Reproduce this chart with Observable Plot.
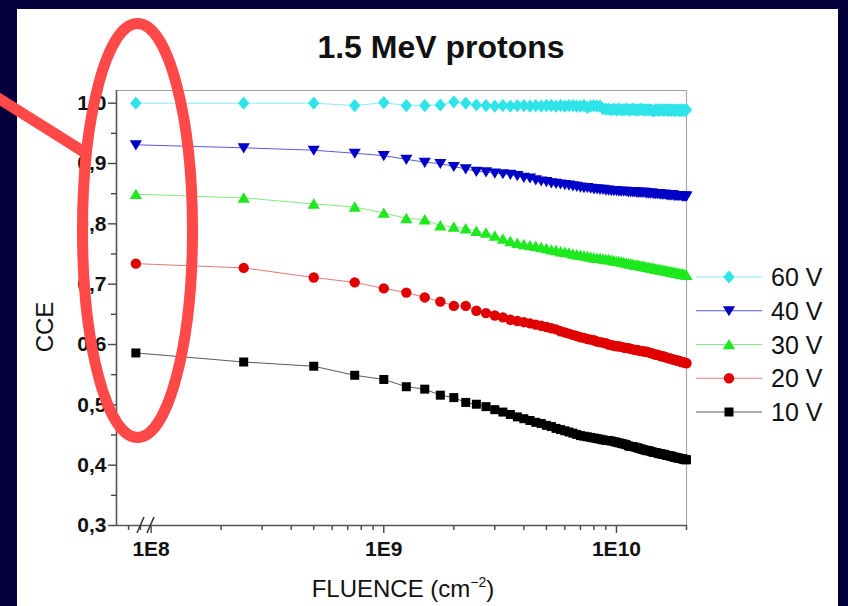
<!DOCTYPE html>
<html><head><meta charset="utf-8">
<script src="https://cdn.jsdelivr.net/npm/d3@7"></script>
<script src="https://cdn.jsdelivr.net/npm/@observablehq/plot@0.6"></script>
<style>
body{margin:0;background:#03003c;}
#wrap{position:relative;width:848px;height:606px;background:#03003c;overflow:hidden;font-family:"Liberation Sans",Arial,Helvetica,sans-serif;}
#panel{position:absolute;left:17px;top:9px;width:821px;height:597px;background:#fff;}
#chart{position:absolute;left:0;top:0;}
#overlay{position:absolute;left:0;top:0;pointer-events:none;}
</style>
</head><body>
<div id="wrap"><div id="panel"></div><div id="chart"></div><svg id="overlay" width="848" height="606"></svg></div>
<script>
// Fluence in units of 1E8 cm^-2 (first point sits at the axis break)
const fluenceE8 = [0.86,
 2.5,5,7.5,10,12.5,15,17.5,20,22.5,25,27.5,30,32.5,35,37.5,40,42.5,45,47.5,50,
 52.5,55,57.5,60,62.5,65,67.5,70,72.5,75,77.5,80,82.5,85,87.5,90,92.5,95,97.5,100,
 102.5,105,107.5,110,112.5,115,117.5,120,122.5,125,127.5,130,132.5,135,137.5,140,142.5,145,147.5,150,
 152.5,155,157.5,160,162.5,165,167.5,170,172.5,175,177.5,180,182.5,185,187.5,190,192.5,195,197.5,200];

const cce60 = [1.000,1.000,1.000,0.996,1.001,0.996,0.996,0.997,1.002,1.000,0.997,0.996,0.995,
 0.996,0.995,0.996,0.996,0.995,0.996,0.995,0.996,0.996,0.995,0.996,0.995,0.996,0.996,0.995,0.995,0.996,0.993,0.995,0.996,0.995,0.995,
 0.991,0.990,0.990,0.989,0.990,0.989,0.990,0.989,0.989,0.990,0.989,0.989,0.990,0.989,0.989,0.989,0.990,0.989,0.989,0.989,
 0.989,0.989,0.988,0.987,0.989,0.989,0.988,0.989,0.989,0.988,0.989,0.989,0.988,0.989,0.988,0.989,0.988,0.988,0.989,0.988,
 0.988,0.988,0.989,0.988,0.988,0.989];
const cce40 = [0.931,0.926,0.922,0.917,0.913,0.907,0.902,0.900,0.895,0.891,0.887,0.886,0.884,
 0.883,0.882,0.880,0.877,0.876,0.873,0.871,0.870,0.868,0.867,0.866,0.865,0.864,0.863,0.862,0.861,0.860,0.860,0.859,0.858,0.858,0.857,
 0.857,0.856,0.856,0.855,0.855,0.855,0.854,0.854,0.854,0.854,0.853,0.853,0.853,0.853,0.852,0.852,0.852,0.852,0.852,0.851,
 0.851,0.851,0.851,0.850,0.850,0.850,0.850,0.849,0.849,0.849,0.849,0.848,0.848,0.848,0.848,0.848,0.847,0.847,0.847,0.847,
 0.847,0.847,0.846,0.846,0.846,0.846];
const cce30 = [0.849,0.843,0.833,0.828,0.818,0.809,0.807,0.797,0.795,0.792,0.788,0.785,0.780,
 0.775,0.771,0.768,0.766,0.764,0.763,0.761,0.759,0.757,0.756,0.754,0.753,0.752,0.750,0.749,0.748,0.747,0.746,0.745,0.744,0.743,0.743,
 0.742,0.741,0.741,0.740,0.739,0.738,0.738,0.737,0.736,0.735,0.734,0.734,0.733,0.732,0.732,0.731,0.730,0.730,0.729,0.728,
 0.728,0.727,0.727,0.726,0.725,0.725,0.724,0.724,0.723,0.723,0.722,0.722,0.721,0.721,0.720,0.720,0.719,0.719,0.718,0.718,
 0.717,0.717,0.717,0.716,0.716,0.715];
const cce20 = [0.734,0.727,0.711,0.703,0.693,0.686,0.678,0.671,0.664,0.664,0.656,0.652,0.648,
 0.645,0.641,0.639,0.637,0.635,0.633,0.631,0.629,0.627,0.625,0.622,0.620,0.618,0.616,0.614,0.612,0.611,0.609,0.608,0.607,0.605,0.604,
 0.603,0.602,0.600,0.599,0.598,0.597,0.597,0.596,0.595,0.594,0.594,0.593,0.592,0.591,0.591,0.590,0.589,0.589,0.588,0.588,
 0.587,0.586,0.585,0.584,0.583,0.583,0.582,0.581,0.580,0.580,0.579,0.578,0.577,0.577,0.576,0.575,0.575,0.574,0.573,0.573,
 0.572,0.571,0.571,0.570,0.570,0.569];
const cce10 = [0.586,0.571,0.564,0.549,0.542,0.530,0.526,0.516,0.512,0.504,0.501,0.497,0.492,
 0.488,0.484,0.480,0.477,0.474,0.471,0.469,0.466,0.464,0.461,0.459,0.457,0.455,0.453,0.451,0.449,0.448,0.447,0.446,0.445,0.444,0.443,
 0.442,0.441,0.441,0.440,0.439,0.438,0.437,0.436,0.435,0.434,0.432,0.431,0.431,0.430,0.429,0.428,0.427,0.426,0.425,0.424,
 0.424,0.423,0.422,0.421,0.421,0.420,0.419,0.419,0.418,0.418,0.417,0.416,0.416,0.415,0.415,0.414,0.413,0.413,0.412,0.412,
 0.411,0.411,0.410,0.410,0.409,0.409];

const seriesNames = ["60 V","40 V","30 V","20 V","10 V"];
const seriesValues = [cce60, cce40, cce30, cce20, cce10];
const seriesColors = ["#2ee4e8","#0000c8","#1ee81e","#e00000","#000000"];
const lineColors = ["#86eef0","#5a5ad8","#84e884","#e27a7a","#5a5a5a"];
const seriesSymbols = ["diamond","triDown","triUp","circle","square"];

const xDomain = [7.1e7, 2e10];
const yDomain = [0.3, 1.021];
const xMajorTicks = [1e8, 1e9, 1e10];
const xMinorTicks = [8e7,9e7,2e8,3e8,4e8,5e8,6e8,7e8,8e8,9e8,2e9,3e9,4e9,5e9,6e9,7e9,8e9,9e9,2e10];
const yMajorTicks = [0.3,0.4,0.5,0.6,0.7,0.8,0.9,1.0];
const yMinorTicks = [0.35,0.45,0.55,0.65,0.75,0.85,0.95];

const titleText = "1.5 MeV protons";
const xLabel = "FLUENCE (cm";
const xLabelSup = "\u22122";
const yLabel = "CCE";

const symbolDefs = {
  diamond: {draw(c){c.moveTo(0,-6.6);c.lineTo(5.7,0);c.lineTo(0,6.6);c.lineTo(-5.7,0);c.closePath();}},
  triDown: {draw(c){c.moveTo(-6.1,-4.6);c.lineTo(6.1,-4.6);c.lineTo(0,5.6);c.closePath();}},
  triUp:   {draw(c){c.moveTo(-6.1,4.8);c.lineTo(6.1,4.8);c.lineTo(0,-5.6);c.closePath();}},
  circle:  {draw(c){c.moveTo(5.2,0);c.arc(0,0,5.2,0,2*Math.PI);c.closePath();}},
  square:  {draw(c){c.rect(-4.5,-4.5,9,9);}}
};

const fluence = fluenceE8.map(v => v * 1e8);
const marks = [];
seriesNames.forEach((name, i) => {
  const rows = fluence.map((f, j) => ({f, v: seriesValues[i][j], series: name}));
  marks.push(Plot.line(rows, {x: "f", y: "v", stroke: lineColors[i], strokeWidth: 1}));
  marks.push(Plot.dot(rows, {x: "f", y: "v", symbol: symbolDefs[seriesSymbols[i]], r: 5, fill: seriesColors[i], stroke: "none"}));
});

const chart = Plot.plot({
  width: 848, height: 606,
  marginLeft: 116, marginRight: 162, marginTop: 90, marginBottom: 81,
  style: {background: "transparent", fontFamily: "'Liberation Sans', Arial, sans-serif", fontSize: "21px", fontWeight: "bold", color: "#111"},
  x: {type: "log", domain: xDomain, axis: null},
  y: {domain: yDomain, axis: null},
  marks: [
    Plot.ruleY([yDomain[1]], {stroke: "#a0a0a0", strokeWidth: 1.2}),
    Plot.ruleX([xDomain[1]], {stroke: "#a8a8a8", strokeWidth: 1.2}),
    Plot.axisY(yMajorTicks, {tickSize: 8, tickPadding: 2, stroke: "#444", strokeWidth: 1.4, label: null,
      tickFormat: d => d.toFixed(1).replace(".", ",")}),
    Plot.axisY(yMinorTicks, {tickSize: 5, stroke: "#444", strokeWidth: 1.4, label: null, tickFormat: () => ""}),
    Plot.axisX(xMajorTicks, {tickSize: 8, tickPadding: 8, stroke: "#444", strokeWidth: 1.4, label: null,
      tickFormat: d => "1E" + Math.round(Math.log10(d))}),
    Plot.axisX(xMinorTicks, {tickSize: 5, stroke: "#444", strokeWidth: 1.4, label: null, tickFormat: () => ""}),
    ...marks,
    Plot.ruleX([xDomain[0]], {stroke: "#555", strokeWidth: 1.6}),
    Plot.ruleY([yDomain[0]], {stroke: "#555", strokeWidth: 1.6})
  ]
});
document.getElementById("chart").appendChild(chart);

// overlay: titles, legend, axis break, annotation
const ov = d3.select("#overlay");
const ff = "'Liberation Sans', Arial, sans-serif";
ov.append("text").attr("x", 441).attr("y", 58).attr("text-anchor", "middle")
  .attr("font-family", ff).attr("font-weight", "bold").attr("font-size", 32).attr("fill", "#111").text(titleText);
const xl = ov.append("text").attr("x", 403).attr("y", 597).attr("text-anchor", "middle")
  .attr("font-family", ff).attr("font-size", 24).attr("fill", "#111");
xl.append("tspan").text(xLabel);
xl.append("tspan").attr("dy", -10).attr("font-size", 14).text(xLabelSup);
xl.append("tspan").attr("dy", 10).text(")");
ov.append("text").attr("transform", "translate(53,327) rotate(-90)").attr("text-anchor", "middle")
  .attr("font-family", ff).attr("font-size", 24).attr("fill", "#111").text(yLabel);

// axis break marks
[[137,533,144,517],[147,533,154,517]].forEach(([a,b,c,d]) =>
  ov.append("line").attr("x1",a).attr("y1",b).attr("x2",c).attr("y2",d).attr("stroke","#333").attr("stroke-width",1.5));

// legend
seriesNames.forEach((name, i) => {
  const y = 277 + i * 33.75;
  ov.append("line").attr("x1", 696).attr("x2", 762).attr("y1", y).attr("y2", y)
    .attr("stroke", lineColors[i]).attr("stroke-width", 1);
  ov.append("path").attr("transform", `translate(729,${y})`)
    .attr("d", d3.symbol(symbolDefs[seriesSymbols[i]], 80)()).attr("fill", seriesColors[i]);
  ov.append("text").attr("x", 771).attr("y", y + 9).attr("font-family", ff).attr("font-size", 25)
    .attr("fill", "#111").text(name);
});

// red hand-drawn annotation
ov.append("line").attr("x1", -5).attr("y1", 96).attr("x2", 84).attr("y2", 152)
  .attr("stroke", "#ff4848").attr("stroke-width", 11).attr("stroke-linecap", "round");
ov.append("ellipse").attr("cx", 137.5).attr("cy", 230.5).attr("rx", 55).attr("ry", 207)
  .attr("fill", "none").attr("stroke", "#ff4848").attr("stroke-width", 11);
</script>
</body></html>
